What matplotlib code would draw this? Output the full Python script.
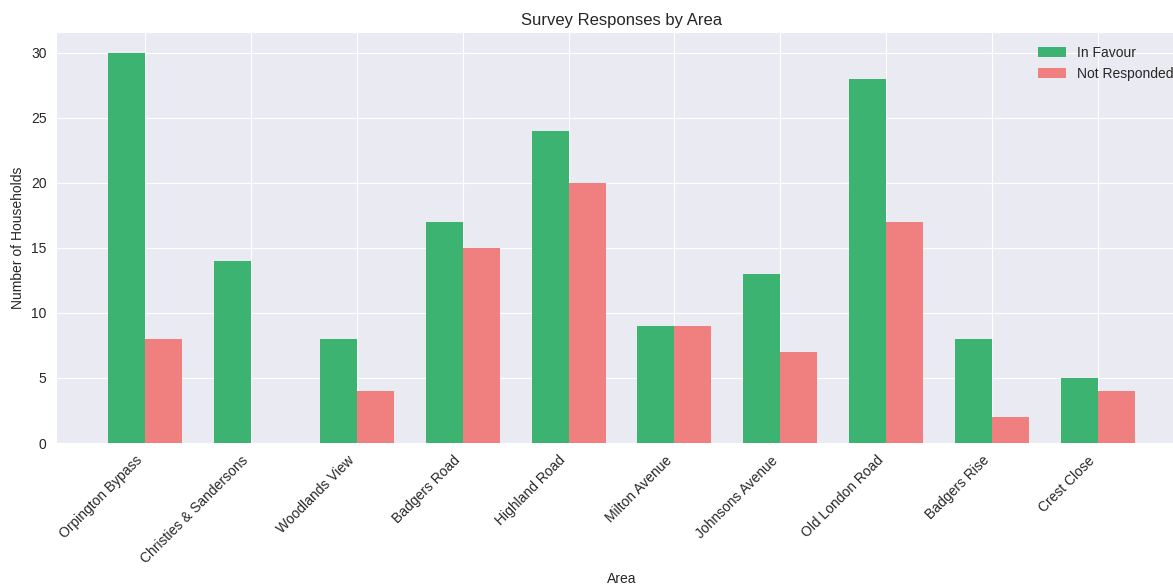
import matplotlib
matplotlib.use("Agg")
import matplotlib.pyplot as plt
import numpy as np

areas = ["Orpington Bypass", "Christies & Sandersons", "Woodlands View", "Badgers Road",
         "Highland Road", "Milton Avenue", "Johnsons Avenue", "Old London Road",
         "Badgers Rise", "Crest Close"]
in_favour = [30, 14, 8, 17, 24, 9, 13, 28, 8, 5]
not_responded = [8, 0, 4, 15, 20, 9, 7, 17, 2, 4]

plt.style.use("seaborn-v0_8-darkgrid")
plt.rcParams['font.family'] = ['Liberation Sans', 'DejaVu Sans']

fig, ax = plt.subplots(figsize=(11.73, 5.86), dpi=100)
x = np.arange(len(areas))
w = 0.35
ax.bar(x - w/2, in_favour, w, label="In Favour", color="mediumseagreen")
ax.bar(x + w/2, not_responded, w, label="Not Responded", color="lightcoral")

ax.set_xticks(x)
ax.set_xticklabels(areas, rotation=45, ha="right")
ax.tick_params(axis="both", pad=7.5)
ax.set_xlabel("Area")
ax.set_ylabel("Number of Households")
ax.set_title("Survey Responses by Area")
ax.legend(loc="upper right")

# the axes runs a little past the right edge, as in the reference
fig.subplots_adjust(left=0.0486, right=1.011, top=0.943, bottom=0.244)
fig.savefig("out.png")
